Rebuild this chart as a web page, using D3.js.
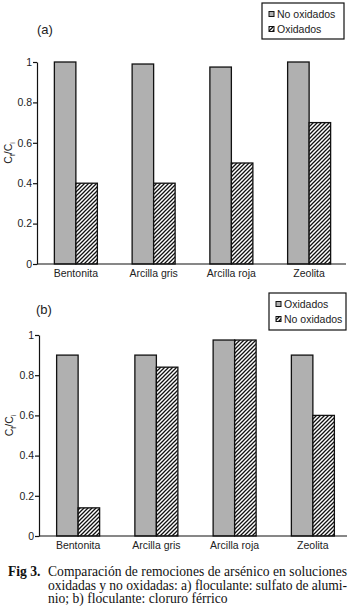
<!DOCTYPE html>
<html>
<head>
<meta charset="utf-8">
<script src="https://cdn.jsdelivr.net/npm/d3@7"></script>
<style>
  body { margin: 0; background: #fff; }
  svg { display: block; }
</style>
</head>
<body>
<div class="graphic"></div>
<script>
let categories = ["Bentonita", "Arcilla gris", "Arcilla roja", "Zeolita"];
let yTicks = [0, 0.2, 0.4, 0.6, 0.8, 1];

// panel (a): floculante sulfato de aluminio
let aNoOxidados = [1, 0.99, 0.975, 1];
let aOxidados = [0.4, 0.4, 0.5, 0.7];
// panel (b): floculante cloruro ferrico
let bOxidados = [0.9, 0.9, 0.975, 0.9];
let bNoOxidados = [0.14, 0.84, 0.975, 0.6];

let captionLines = [
    "Comparación de remociones de arsénico en soluciones",
    "oxidadas y no oxidadas: a) floculante: sulfato de alumi-",
    "nio; b) floculante: cloruro férrico"
];

let GRAY = "#b0b0b0";
let BAR_W = 21.5;
let FONT = "'Liberation Sans', Arial, sans-serif";

let svg = d3.select(".graphic")
            .append("svg")
            .attr("width", 355)
            .attr("height", 610);

let defs = svg.append("defs");
let pat = defs.append("pattern")
    .attr("id", "hatch")
    .attr("patternUnits", "userSpaceOnUse")
    .attr("width", 4)
    .attr("height", 4);
pat.append("rect").attr("width", 4).attr("height", 4).attr("fill", "#fff");
pat.append("path")
    .attr("d", "M-1,1 l2,-2 M0,4 l4,-4 M3,5 l2,-2")
    .attr("stroke", "#111")
    .attr("stroke-width", 1.3);


function drawPanel(opt) {
    let g = svg.append("g");
    let x = d3.scaleBand().domain(categories).range(opt.xRange);
    let y = d3.scaleLinear().domain([0, 1]).range([opt.y0, opt.y1]);

    // bars
    categories.forEach(function (c, i) {
        let cx = x(c) + x.bandwidth() / 2;
        g.append("rect")
            .attr("x", cx - BAR_W)
            .attr("y", y(opt.grayVals[i]))
            .attr("width", BAR_W)
            .attr("height", y(0) - y(opt.grayVals[i]))
            .attr("fill", GRAY)
            .attr("stroke", "#111")
            .attr("stroke-width", 1.3);
        g.append("rect")
            .attr("x", cx)
            .attr("y", y(opt.hatchVals[i]))
            .attr("width", BAR_W)
            .attr("height", y(0) - y(opt.hatchVals[i]))
            .attr("fill", "url(#hatch)")
            .attr("stroke", "#111")
            .attr("stroke-width", 1.3);
    });

    // y axis
    let yAxis = d3.axisLeft(y)
        .tickValues(yTicks)
        .tickFormat(d3.format("~g"))
        .tickSize(4)
        .tickSizeOuter(0);
    let ya = g.append("g")
        .attr("transform", "translate(" + opt.xRange[0] + ",0)")
        .call(yAxis);
    ya.selectAll("path, line").attr("stroke", "#111").attr("stroke-width", 1.2);
    ya.selectAll("text")
        .attr("font-family", FONT)
        .attr("font-size", "10.5px")
        .attr("fill", "#222")
        .attr("x", -5);

    // x axis line + labels
    g.append("line")
        .attr("x1", opt.xRange[0])
        .attr("x2", opt.axisEnd)
        .attr("y1", y(0))
        .attr("y2", y(0))
        .attr("stroke", "#111")
        .attr("stroke-width", 1.2);
    g.selectAll(".cat")
        .data(categories)
        .enter()
        .append("text")
        .attr("x", d => x(d) + x.bandwidth() / 2)
        .attr("y", y(0) + 13)
        .attr("text-anchor", "middle")
        .attr("font-family", FONT)
        .attr("font-size", "10.5px")
        .attr("fill", "#222")
        .text(d => d);

    // y label Cf/Ci
    let yl = g.append("text")
        .attr("transform", "translate(" + opt.labelX + "," + y(0.55) + ") rotate(-90)")
        .attr("text-anchor", "middle")
        .attr("font-family", FONT)
        .attr("font-size", "10.5px")
        .attr("fill", "#222");
    yl.append("tspan").text("C");
    yl.append("tspan").attr("font-size", "7px").attr("dy", 3).text("f");
    yl.append("tspan").attr("dy", -3).text("/C");
    yl.append("tspan").attr("font-size", "7px").attr("dy", 3).text("i");

    // panel letter
    g.append("text")
        .attr("x", opt.letterX)
        .attr("y", opt.letterY)
        .attr("font-family", FONT)
        .attr("font-size", "13px")
        .attr("fill", "#222")
        .text(opt.letter);

    // legend
    let lg = opt.legend;
    g.append("rect")
        .attr("x", lg.x)
        .attr("y", lg.y)
        .attr("width", lg.w)
        .attr("height", lg.h)
        .attr("fill", "#fff")
        .attr("stroke", "#111")
        .attr("stroke-width", 1.2);
    lg.items.forEach(function (it, k) {
        let ry = lg.y + 11 + k * 15;
        g.append("rect")
            .attr("x", lg.x + 7)
            .attr("y", ry - 2.5)
            .attr("width", 5)
            .attr("height", 5)
            .attr("fill", it.fill)
            .attr("stroke", "#111")
            .attr("stroke-width", 1);
        g.append("text")
            .attr("x", lg.x + 15)
            .attr("y", ry + 4)
            .attr("font-family", FONT)
            .attr("font-size", "10.5px")
            .attr("fill", "#222")
            .text(it.label);
    });
}

drawPanel({
    letter: "(a)", letterX: 37, letterY: 34,
    xRange: [37, 348], axisEnd: 346,
    y0: 264, y1: 62, labelX: 12,
    grayVals: aNoOxidados, hatchVals: aOxidados,
    legend: {x: 262, y: 3, w: 82, h: 36,
        items: [{label: "No oxidados", fill: GRAY}, {label: "Oxidados", fill: "url(#hatch)"}]}
});

drawPanel({
    letter: "(b)", letterX: 36, letterY: 314,
    xRange: [39, 352], axisEnd: 347,
    y0: 536, y1: 335, labelX: 13,
    grayVals: bOxidados, hatchVals: bNoOxidados,
    legend: {x: 269, y: 293, w: 77, h: 37,
        items: [{label: "Oxidados", fill: GRAY}, {label: "No oxidados", fill: "url(#hatch)"}]}
});

// caption (first two lines justified to the same width)
let cap = svg.append("g")
    .attr("font-family", "'Liberation Serif', 'Times New Roman', serif")
    .attr("font-size", "13.6px")
    .attr("fill", "#111");
cap.append("text")
    .attr("x", 8)
    .attr("y", 576)
    .attr("font-weight", "bold")
    .text("Fig 3.");
cap.selectAll(".cl")
    .data(captionLines)
    .enter()
    .append("text")
    .attr("x", 48)
    .attr("y", (d, i) => 576 + i * 13.6)
    .attr("textLength", (d, i) => i < 2 ? 299 : null)
    .attr("lengthAdjust", "spacing")
    .text(d => d);
</script>
</body>
</html>
